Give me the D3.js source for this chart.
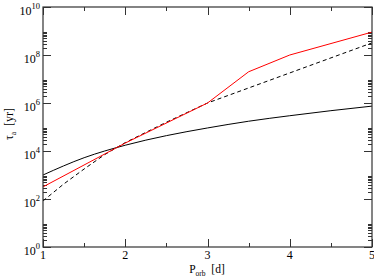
<!DOCTYPE html>
<html>
<head>
<meta charset="utf-8">
<script src="https://cdn.jsdelivr.net/npm/d3@7/dist/d3.min.js"></script>
<style>
  body { margin: 0; background: #fff; }
  svg { display: block; }
  text { font-family: 'Liberation Serif', 'Times New Roman', serif; fill: #000; }
</style>
</head>
<body>
<svg id="chart"></svg>
<script>
const width = 374;
const height = 279;

// orbital period [d]
const periods = [1, 1.5, 2, 2.5, 3, 3.5, 4, 4.5, 5];
// tau_a [yr] curves
const solidBlack = [1000, 5250, 17400, 43600, 91200, 174000, 295000, 479000, 741000];
const redPeriods = [1, 2, 3, 3.5, 4, 5];
const redValues = [320, 21400, 1000000, 20000000, 100000000, 900000000];
const dashedPeriods = [1, 1.25, 1.5, 1.75, 2, 2.5, 3, 5];
const dashedValues = [83, 417, 1780, 7080, 22400, 158000, 1000000, 320000000];

const xTicks = [1, 2, 3, 4, 5];
const xMinor = [1.5, 2.5, 3.5, 4.5];
const yExponents = [0, 2, 4, 6, 8, 10];

const plotLeft = 43, plotRight = 372, plotTop = 7, plotBottom = 247;

const svg = d3.select('#chart').attr('width', width).attr('height', height);

const x = d3.scaleLinear().domain([1, 5]).range([plotLeft, plotRight]);
const y = d3.scaleLog().domain([1, 1e10]).range([plotBottom, plotTop]);

// minor log ticks: 2..9 x 10^even
let yMinor = [];
yExponents.slice(0, -1).forEach((e) => {
  for (let k = 2; k <= 9; k++) yMinor.push(k * Math.pow(10, e));
});

const axisColor = '#333';

// ticks (inward, all four sides)
const ticks = svg.append('g').attr('stroke', axisColor).attr('stroke-width', 1);
xTicks.forEach((t) => {
  const xx = Math.round(x(t)) + 0.5;
  ticks.append('line').attr('x1', xx).attr('x2', xx).attr('y1', plotBottom).attr('y2', plotBottom - 8);
  ticks.append('line').attr('x1', xx).attr('x2', xx).attr('y1', plotTop).attr('y2', plotTop + 8);
});
xMinor.forEach((t) => {
  const xx = Math.round(x(t)) + 0.5;
  ticks.append('line').attr('x1', xx).attr('x2', xx).attr('y1', plotBottom).attr('y2', plotBottom - 4);
  ticks.append('line').attr('x1', xx).attr('x2', xx).attr('y1', plotTop).attr('y2', plotTop + 4);
});
yExponents.forEach((e) => {
  const yy = Math.round(y(Math.pow(10, e))) + 0.5;
  ticks.append('line').attr('x1', plotLeft).attr('x2', plotLeft + 8).attr('y1', yy).attr('y2', yy);
  ticks.append('line').attr('x1', plotRight).attr('x2', plotRight - 8).attr('y1', yy).attr('y2', yy);
});
yMinor.forEach((v) => {
  const yy = Math.round(y(v)) + 0.5;
  ticks.append('line').attr('x1', plotLeft).attr('x2', plotLeft + 4).attr('y1', yy).attr('y2', yy);
  ticks.append('line').attr('x1', plotRight).attr('x2', plotRight - 4).attr('y1', yy).attr('y2', yy);
});

// curves
const line = d3.line().x((d) => x(d[0])).y((d) => y(d[1]));
const smoothLine = d3.line().x((d) => x(d[0])).y((d) => y(d[1])).curve(d3.curveMonotoneX);

svg.append('path')
  .datum(periods.map((p, i) => [p, solidBlack[i]]))
  .attr('d', smoothLine)
  .attr('fill', 'none')
  .attr('stroke', '#000')
  .attr('stroke-width', 1);

svg.append('path')
  .datum(dashedPeriods.map((p, i) => [p, dashedValues[i]]))
  .attr('d', line)
  .attr('fill', 'none')
  .attr('stroke', '#000')
  .attr('stroke-width', 1)
  .attr('stroke-dasharray', '4,3');

svg.append('path')
  .datum(redPeriods.map((p, i) => [p, redValues[i]]))
  .attr('d', line)
  .attr('fill', 'none')
  .attr('stroke', '#ff0000')
  .attr('stroke-width', 1);

// frame
svg.append('rect')
  .attr('x', plotLeft).attr('y', plotTop)
  .attr('width', plotRight - plotLeft).attr('height', plotBottom - plotTop)
  .attr('fill', 'none')
  .attr('stroke', axisColor)
  .attr('stroke-width', 1.2);

// x tick labels
svg.append('g').selectAll('text')
  .data(xTicks)
  .enter()
  .append('text')
  .attr('x', (d) => x(d))
  .attr('y', plotBottom + 12)
  .attr('text-anchor', 'middle')
  .style('font-size', '12px')
  .text((d) => d);

// y tick labels 10^n
yExponents.forEach((e) => {
  const t = svg.append('text')
    .attr('x', 40)
    .attr('y', y(Math.pow(10, e)) + 8)
    .attr('text-anchor', 'end')
    .style('font-size', '12px');
  t.append('tspan').text('10');
  t.append('tspan').attr('dy', -6).style('font-size', '8.5px').text(e);
});

// axis titles
const xt = svg.append('text')
  .attr('x', 207)
  .attr('y', 273)
  .attr('text-anchor', 'middle')
  .style('font-size', '11.5px');
xt.append('tspan').text('P');
xt.append('tspan').attr('dy', 3).style('font-size', '7.5px').text('orb');
xt.append('tspan').attr('dy', -3).text('\u00a0\u00a0[d]');

const yt = svg.append('text')
  .attr('transform', 'translate(13,' + 124 + ') rotate(-90)')
  .attr('text-anchor', 'middle')
  .style('font-size', '12px');
yt.append('tspan').text('\u03c4');
yt.append('tspan').attr('dy', 3).style('font-size', '7.5px').text('a');
yt.append('tspan').attr('dy', -3).text('\u00a0\u00a0[yr]');
</script>
</body>
</html>
